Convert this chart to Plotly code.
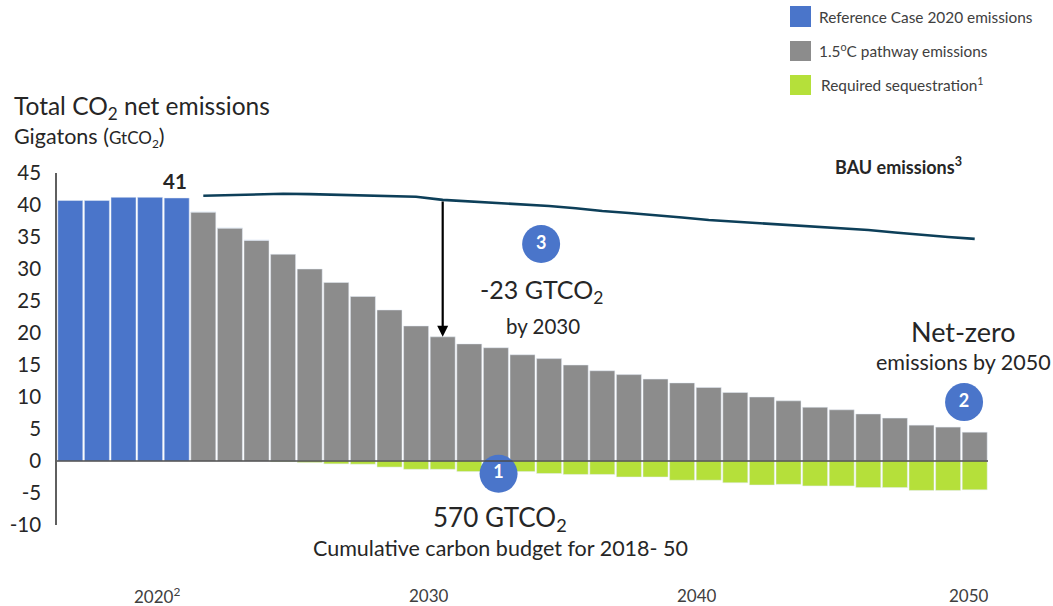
import plotly.graph_objects as go

ref_years = [2016, 2017, 2018, 2019, 2020]
ref_values = [40.7, 40.7, 41.2, 41.2, 41.1]
path_years = list(range(2021, 2051))
path_values = [38.9, 36.4, 34.5, 32.3, 30.0, 27.9, 25.7, 23.6, 21.1, 19.4,
               18.3, 17.7, 16.6, 16.0, 15.0, 14.1, 13.5, 12.8, 12.2, 11.5,
               10.7, 10.0, 9.4, 8.4, 8.0, 7.35, 6.7, 5.6, 5.3, 4.5]
seq_values = [0, 0, 0, -0.1, -0.25, -0.45, -0.5, -0.95, -1.3, -1.3,
              -1.65, -1.7, -1.65, -1.95, -2.1, -2.1, -2.5, -2.5, -3.0, -3.0,
              -3.4, -3.75, -3.65, -3.9, -3.9, -4.15, -4.15, -4.6, -4.6, -4.5]
bau_values = [41.45, 41.55, 41.7, 41.75, 41.7, 41.6, 41.55, 41.45, 41.3, 40.8,
              40.55, 40.4, 40.1, 39.85, 39.5, 39.05, 38.75, 38.45, 38.05, 37.65,
              37.4, 37.2, 36.9, 36.65, 36.4, 36.1, 35.7, 35.3, 35.0, 34.7]
y_ticks = [-10, -5, 0, 5, 10, 15, 20, 25, 30, 35, 40, 45]
badge_x = [2032.1, 2049.6, 2033.7]
badge_y = [-2.0, 9.2, 33.9]
badge_text = ["1", "2", "3"]
x_labels = ["2020<sup>2</sup>", "2030", "2040", "2050"]
x_label_pos = [2019.25, 2029.48, 2039.57, 2049.8]

BLUE, GRAY, GREEN, NAVY = "#4a75ca", "#8c8c8c", "#b5e03a", "#0d3f59"
INK = "#262626"
FONT = "Lato"
L, R, T, B = 57, 988, 173, 525


def pxx(x):
    return (x - L) / (R - L)


def pxy(y):
    return (B - y) / (B - T)


fig = go.Figure()
fig.add_bar(x=ref_years, y=ref_values, marker_color=BLUE, name="Reference Case 2020 emissions")
fig.add_bar(x=path_years, y=path_values, marker_color=GRAY, name="1.5°C pathway emissions")
fig.add_bar(x=path_years, y=seq_values, marker_color=GREEN, name="Required sequestration")
fig.add_scatter(x=path_years, y=bau_values, mode="lines", line=dict(color=NAVY, width=2.6), name="BAU emissions")
fig.add_scatter(x=badge_x, y=badge_y, mode="markers+text", text=badge_text,
                marker=dict(size=38, color=BLUE), cliponaxis=False,
                textfont=dict(family=FONT, size=18, color="white", weight="bold"),
                textposition="middle center", name="badges")


def px(x, y, text, size, color=INK, anchor="left", bold=False):
    fig.add_annotation(x=pxx(x), y=pxy(y), xref="paper", yref="paper", text=text,
                       showarrow=False, xanchor=anchor, yanchor="middle",
                       font=dict(family=FONT, size=size, color=color,
                                 weight="bold" if bold else "normal"))


px(12, 107, "Total CO<sub>2</sub> net emissions", 24.5)
px(12, 137, "Gigatons (<span style='font-size:17px'>GtCO<sub>2</sub></span>)", 21.5)
px(175, 181, "41", 20.5, anchor="center", bold=True)
px(898, 166, "BAU emissions<sup>3</sup>", 18, anchor="center", bold=True)
px(541, 291, "-23 GTCO<sub>2</sub>", 25, anchor="center")
px(543, 326, "by 2030", 20.5, anchor="center")
px(500, 518, "570 GTCO<sub>2</sub>", 26, anchor="center")
px(500, 548, "Cumulative carbon budget for 2018- 50", 21.5, anchor="center")
px(963, 331, "Net-zero", 27, anchor="center")
px(963, 362, "emissions by 2050", 21.5, anchor="center")
px(817, 17, "Reference Case 2020 emissions", 15.4, color="#404040")
px(817, 50, "1.5<sup>o</sup>C pathway emissions", 15.4, color="#404040")
px(819, 84, "Required sequestration<sup>1</sup>", 15.4, color="#404040")

for (y0, y1, col) in [(6, 27, BLUE), (41, 61, GRAY), (75, 95, GREEN)]:
    fig.add_shape(type="rect", xref="paper", yref="paper", x0=pxx(790), x1=pxx(811),
                  y0=pxy(y1), y1=pxy(y0), fillcolor=col, line_width=0)

# baseline drawn above the bars
fig.add_shape(type="line", xref="paper", yref="y", x0=0, x1=1, y0=0, y1=0,
              line=dict(color="#4d4d4d", width=1.5), layer="above")

for pos, lab in zip(x_label_pos, x_labels):
    fig.add_annotation(x=pos, xref="x", y=pxy(595), yref="paper", text=lab, showarrow=False, height=19,
                       xanchor="center", yanchor="middle", font=dict(family=FONT, size=17, color="#404040"))

# reduction arrow, BAU down to the pathway in 2030
fig.add_annotation(x=2030, y=path_values[9], ax=2030, ay=bau_values[9], xref="x", yref="y",
                   axref="x", ayref="y", text="", showarrow=True, arrowhead=2, arrowsize=1,
                   arrowwidth=2.2, arrowcolor="#000000")

fig.update_layout(
    width=1053, height=606, barmode="relative", bargap=0.06, showlegend=False,
    paper_bgcolor="white", plot_bgcolor="white",
    margin=dict(l=L, r=1053 - R, t=T, b=606 - B, autoexpand=False),
    font=dict(family=FONT, color=INK),
    xaxis=dict(range=[2015.5, 2050.5], showticklabels=False, showgrid=False, zeroline=False, showline=False, ticks=""),
    yaxis=dict(range=[-10, 45], tickvals=y_ticks, ticktext=[str(v) for v in y_ticks], showgrid=False,
               automargin=False,
               zeroline=False, showline=True, linecolor="#5f5f5f", linewidth=1.5, ticks="",
               ticklabelstandoff=10,
               tickfont=dict(family=FONT, size=20.5, color=INK)),
)
fig.write_html("out.html", config=dict(displayModeBar=False),
               post_script="document.body.style.margin='0';")
